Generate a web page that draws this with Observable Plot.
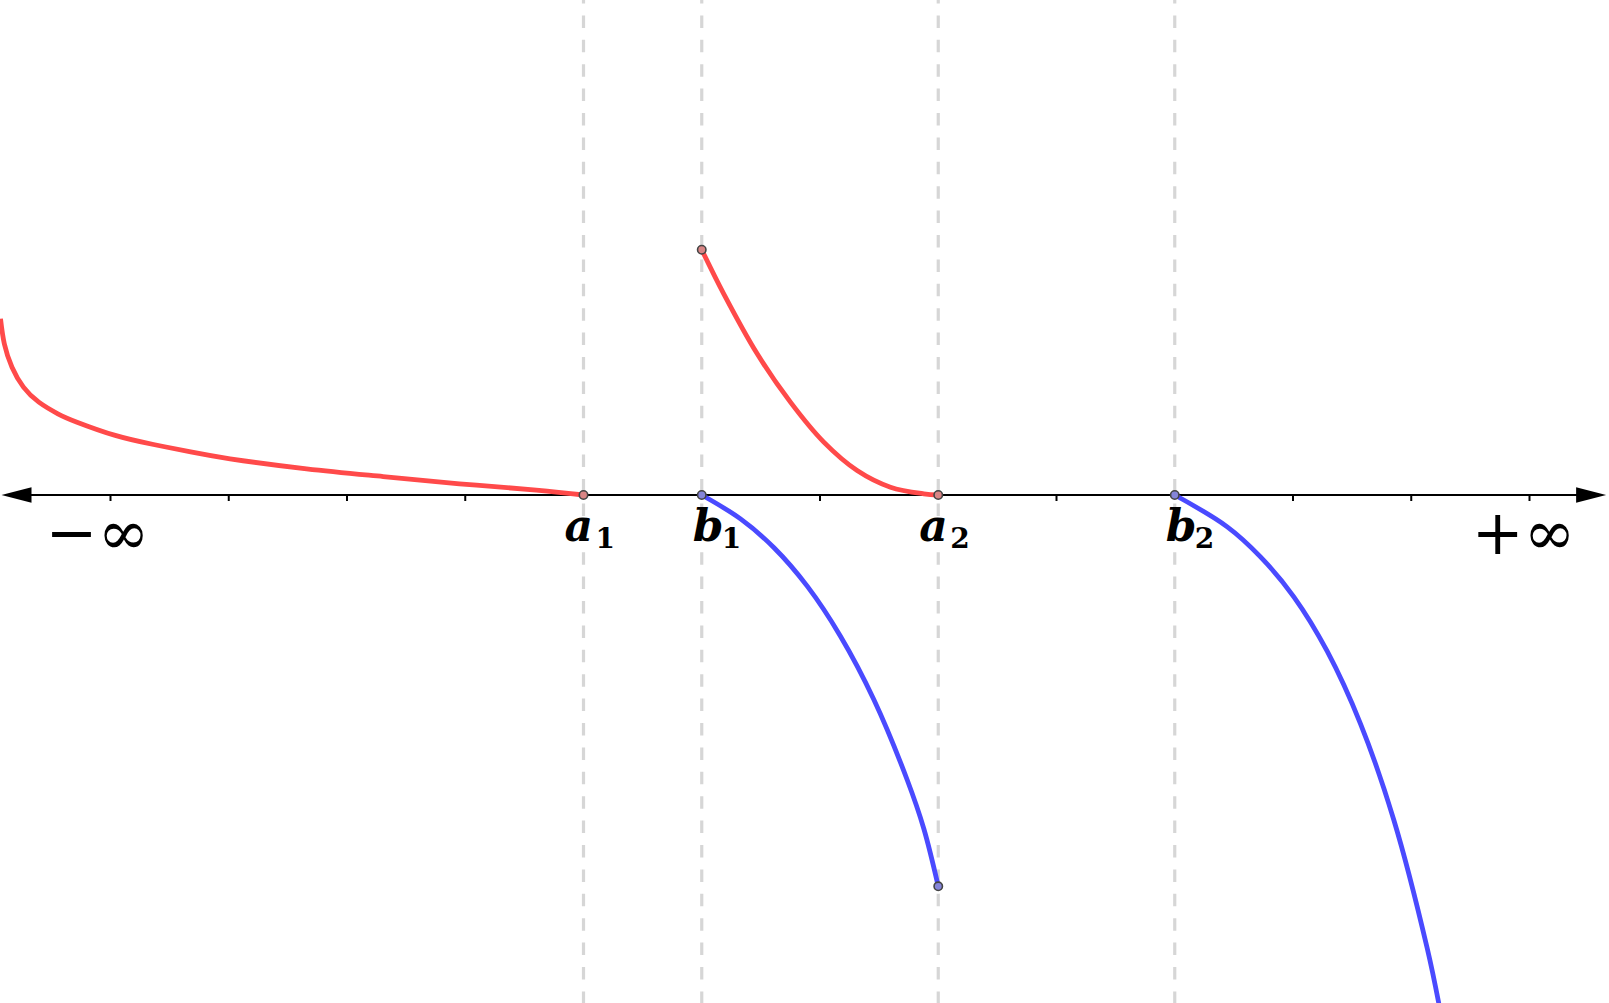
<!DOCTYPE html>
<html><head><meta charset="utf-8">
<script src="https://cdn.jsdelivr.net/npm/d3@7"></script>
<script src="https://cdn.jsdelivr.net/npm/@observablehq/plot@0.6"></script>
<style>html,body{margin:0;padding:0;background:#fff;overflow:hidden}</style>
</head><body><div id="chart"></div>
<script>
// ---- data (x in axis tick units, y in same units; axis at y = 0) ----
const tickValues = [0, 1, 2, 3, 6, 8, 10, 11, 12];
const keyNames = ["a", "b", "a", "b"];
const keySubs = ["1", "1", "2", "2"];
const keyX = [4, 5, 7, 9];
const axisEnds = [-0.922, 12.648];
const endLabels = ["−∞", "+∞"];
const endLabelX = [-0.11, 11.95];

const redLeftX = [-0.930, -0.898, -0.833, -0.736, -0.606, -0.445, -0.283, 0.040, 0.364, 0.689, 1.011, 1.658, 2.306, 2.951, 3.601, 4.0];
const redLeftY = [1.490, 1.279, 1.081, 0.912, 0.785, 0.687, 0.616, 0.504, 0.427, 0.362, 0.306, 0.221, 0.156, 0.095, 0.042, 0];

const redMidX = [5.0, 5.186, 5.469, 5.750, 6.032, 6.314, 6.596, 6.878, 7.0];
const redMidY = [2.074, 1.701, 1.194, 0.785, 0.447, 0.207, 0.066, 0.010, 0];

const blueMidX = [5.0, 5.328, 5.609, 5.892, 6.173, 6.455, 6.737, 6.878, 7.0];
const blueMidY = [0, -0.202, -0.444, -0.771, -1.194, -1.729, -2.408, -2.822, -3.309];

const blueRightX = [9.0, 9.444, 9.725, 10.007, 10.289, 10.571, 10.852, 11.135, 11.233];
const blueRightY = [0, -0.269, -0.523, -0.861, -1.321, -1.935, -2.746, -3.833, -4.299];

const redDotX = [4, 5, 7];
const redDotY = [0, 2.074, 0];
const blueDotX = [5, 7, 9];
const blueDotY = [0, -3.309, 0];

// ---- build tables ----
const zip = (xs, ys) => xs.map((x, i) => ({x, y: ys[i]}));
const redLeft = zip(redLeftX, redLeftY);
const redMid = zip(redMidX, redMidY);
const blueMid = zip(blueMidX, blueMidY);
const blueRight = zip(blueRightX, blueRightY);
const redDots = zip(redDotX, redDotY);
const blueDots = zip(blueDotX, blueDotY);
const keys = keyX.map((x, i) => ({x, name: keyNames[i], sub: keySubs[i]}));
const ends = endLabelX.map((x, i) => ({x, label: endLabels[i]}));
const ticks = tickValues.map(x => ({x}));

const RED = "#ff4a4a", BLUE = "#4a4aff";
const leftHead = {draw(c) { c.moveTo(0, 0); c.lineTo(30, -7.7); c.lineTo(30, 7.7); c.closePath(); }};
const rightHead = {draw(c) { c.moveTo(0, 0); c.lineTo(-30, -7.7); c.lineTo(-30, 7.7); c.closePath(); }};
const tickSym = {draw(c) { c.moveTo(0, 0); c.lineTo(0, 6); }};

const U = 118.25, OX = 110, OY = 494.5, W = 1609, H = 1003;
const curveStyle = {x: "x", y: "y", strokeWidth: 4.8, curve: "catmull-rom", strokeLinecap: "butt"};
const letterStyle = {x: "x", y: 0, text: "name", textAnchor: "start", lineAnchor: "bottom", dy: 45.5,
  fontFamily: "DejaVu Serif", fontWeight: "bold", fontStyle: "italic", fontSize: 44, fill: "black"};
const subStyle = {x: "x", y: 0, text: "sub", textAnchor: "start", lineAnchor: "bottom", dy: 52.5,
  fontFamily: "DejaVu Serif", fontWeight: "bold", fontSize: 28, fill: "black"};

const chart = Plot.plot({
  width: W, height: H, margin: 0,
  x: {domain: [-OX / U, (W - OX) / U], axis: null},
  y: {domain: [-(H - OY) / U, OY / U], axis: null},
  marks: [
    Plot.ruleX(keyX, {stroke: "#d6d6d6", strokeWidth: 3.2, strokeDasharray: "12.5,11.9", strokeDashoffset: 9}),
    Plot.ruleY([0], {x1: axisEnds[0] + 0.1, x2: axisEnds[1] - 0.1, stroke: "black", strokeWidth: 2.2}),
    Plot.dot(ticks, {x: "x", y: 0, symbol: tickSym, fill: "none", stroke: "black", strokeWidth: 2}),
    Plot.dot([axisEnds[0]], {x: d => d, y: 0, symbol: leftHead, fill: "black", stroke: "none"}),
    Plot.dot([axisEnds[1]], {x: d => d, y: 0, symbol: rightHead, fill: "black", stroke: "none"}),
    Plot.line(redLeft, {...curveStyle, curve: "natural", stroke: RED}),
    Plot.line(redMid, {...curveStyle, stroke: RED}),
    Plot.line(blueMid, {...curveStyle, stroke: BLUE}),
    Plot.line(blueRight, {...curveStyle, stroke: BLUE}),
    Plot.dot(redDots, {x: "x", y: "y", r: 4.2, fill: "#d98585", stroke: "#444", strokeWidth: 1.6}),
    Plot.dot(blueDots, {x: "x", y: "y", r: 4.2, fill: "#8585d9", stroke: "#444", strokeWidth: 1.6}),
    Plot.text(keys.filter(d => d.name === "a"), {...letterStyle, dx: -19}),
    Plot.text(keys.filter(d => d.name === "b"), {...letterStyle, dx: -9}),
    Plot.text(keys.filter(d => d.name === "a"), {...subStyle, dx: 12}),
    Plot.text(keys.filter(d => d.name === "b"), {...subStyle, dx: 20}),
    Plot.text(ends, {x: "x", y: 0, text: "label", textAnchor: "middle", lineAnchor: "bottom", dy: 59,
      fontFamily: "DejaVu Serif", fontSize: 62, fill: "black"})
  ]
});
document.getElementById("chart").appendChild(chart);
</script>
</body></html>
